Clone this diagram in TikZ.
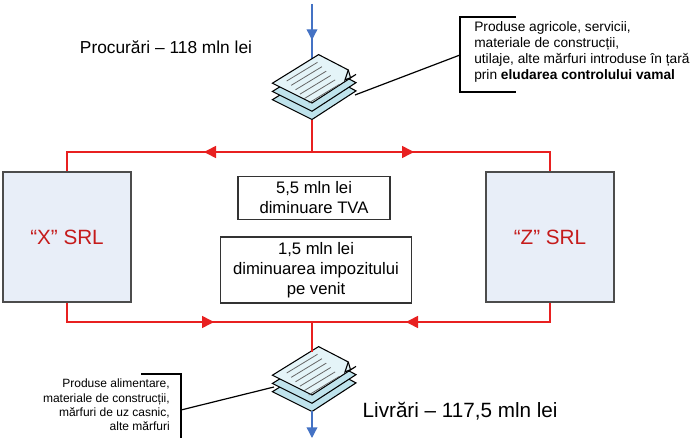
\documentclass[tikz,border=0pt]{standalone}
\usepackage{fontspec}
\setmainfont{Liberation Sans}
\usetikzlibrary{arrows.meta}
\definecolor{boxfill}{HTML}{E8EEF8}
\definecolor{sheet}{HTML}{E4F4F8}
\definecolor{sheetd}{HTML}{BFE3EC}
\definecolor{flowred}{HTML}{E82020}
\definecolor{flowblue}{HTML}{4472C4}
\tikzset{
  redflow/.style={draw=flowred,line width=1.2pt},
  redtip/.style={redflow,-{Triangle[length=9pt,width=9pt]}},
  blueflow/.style={draw=flowblue,line width=1pt},
  firm/.style={draw=black!70,line width=1pt,fill=boxfill,minimum width=128*0.75pt,minimum height=130*0.75pt,text=flowred!85!black,font=\fontsize{15.5}{18}\selectfont},
  note/.style={draw=black!80,line width=0.8pt,align=center,font=\fontsize{12.5}{15}\selectfont,inner sep=2pt},
  call/.style={font=\fontsize{9}{10.6}\selectfont,inner sep=0pt},
  calltop/.style={font=\fontsize{10.3}{12}\selectfont,inner sep=0pt},
  pics/docs/.style={code={
    \begin{scope}[scale=1.1]
    \foreach \d/\c in {15/sheetd,7.5/sheetd}{
      \draw[black,line width=0.8pt,fill=\c] (-36,-8+\d) -- (6,-34+\d) -- (40,-16+\d) -- (0,10+\d) -- cycle;}
    \draw[black,line width=0.8pt,fill=sheet] (-36,-8) -- (6,-34) -- (33,-20) -- (35,-13) -- (40,-16) -- (0,10) -- cycle;
    \draw[black,line width=0.8pt] (33,-20) -- (30,-11) -- (35,-13);
    \foreach \i in {0,...,5}{\draw[black!60,line width=0.6pt] (-23+4*\i,-10+4*\i) -- (5+4*\i,-27+4*\i);}
    \end{scope}
  }}
}
\begin{document}
\begin{tikzpicture}[x=0.75pt,y=-0.75pt]
\useasboundingbox (0,0) rectangle (700,438);
% blue top
\draw[blueflow] (304,-1) arc (180:360:8 and 5);
\coordinate (topin) at (312,4);
\draw[blueflow,-{Triangle[length=8pt,width=8pt]}] (topin) -- (312,40);
\draw[blueflow] (312,36) -- (312,62);
\pic (d1) at (312,92) {docs};
\coordinate (d1b) at (312,120);
\coordinate (d1r) at (355,95);
\node[font=\fontsize{13}{15}\selectfont] (proc) at (166,47) {Procurări – 118 mln lei};
% callout top
\coordinate (ct) at (460,55);
\draw[black,line width=0.9pt] (516,17) -| (460,92) -- (516,92);
\draw[black,line width=0.9pt] (d1r) -- (ct);
\node[calltop,align=left,anchor=north west] (t1) at (474,21) {Produse agricole, servicii,\\materiale de construcții,\\utilaje, alte mărfuri introduse în țară\\prin \textbf{eludarea controlului vamal}};
% firms
\node[firm] (x) at (67,237) {“X” SRL};
\node[firm] (z) at (550,237) {“Z” SRL};
\node[note,minimum width=152*0.75pt,minimum height=43*0.75pt] (n1) at (314,198) {5,5 mln lei\\diminuare TVA};
\node[note,minimum width=191*0.75pt,minimum height=66*0.75pt] (n2) at (316,270) {1,5 mln lei\\diminuarea impozitului\\pe venit};
% red flows
\coordinate (tj) at (312,152);
\coordinate (bj) at (312,322);
\draw[redflow] (d1b) -- (tj);
\draw[redtip] (tj) -- (204,152);
\draw[redflow] (208,152) -| (x.north);
\draw[redtip] (tj) -- (414,152);
\draw[redflow] (410,152) -| (z.north);
\draw[redtip] (x.south) |- (214,322);
\draw[redflow] (210,322) -- (bj);
\draw[redtip] (z.south) |- (406,322);
\draw[redflow] (410,322) -- (bj);
\pic (d2) at (312,384) {docs};
\coordinate (d2t) at (312,352);
\coordinate (d2l) at (274,387);
\coordinate (d2b) at (312,411);
\draw[redflow] (bj) -- (d2t);
\draw[blueflow,-{Triangle[length=8pt,width=8pt]}] (d2b) -- (312,438);
\node[font=\fontsize{15.5}{18}\selectfont,anchor=west] (liv) at (358,411) {Livrări – 117,5 mln lei};
% bottom callout
\coordinate (cb) at (181,410);
\draw[black,line width=0.9pt] (141,374) -- (181,374) -- (181,440);
\draw[black,line width=0.9pt] (cb) -- (d2l);
\node[call,align=right,anchor=north east] (t2) at (170,379) {Produse alimentare,\\materiale de construcții,\\mărfuri de uz casnic,\\alte mărfuri};
\end{tikzpicture}
\end{document}
